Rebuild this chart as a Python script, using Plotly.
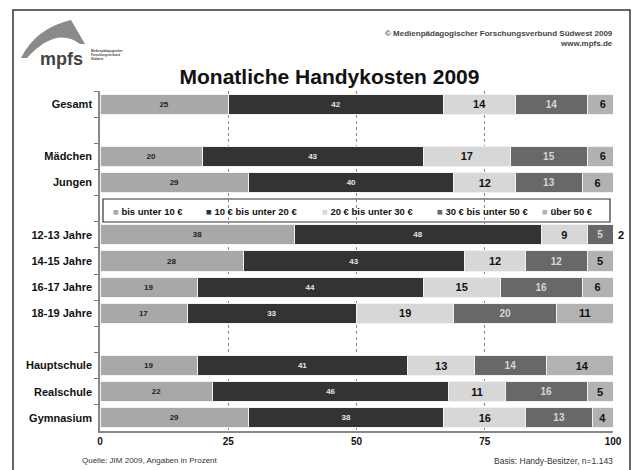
import plotly.graph_objects as go

categories = ["Gesamt", "Mädchen", "Jungen", "12-13 Jahre", "14-15 Jahre", "16-17 Jahre",
              "18-19 Jahre", "Hauptschule", "Realschule", "Gymnasium"]
slot_order = ["Gesamt", " ", "Mädchen", "Jungen", "  ", "12-13 Jahre", "14-15 Jahre",
              "16-17 Jahre", "18-19 Jahre", "   ", "Hauptschule", "Realschule", "Gymnasium"]

series_names = ["bis unter 10 €", "10 € bis unter 20 €", "20 € bis unter 30 €",
                "30 € bis unter 50 €", "über 50 €"]
bis10 = [25, 20, 29, 38, 28, 19, 17, 19, 22, 29]
bis20 = [42, 43, 40, 48, 43, 44, 33, 41, 46, 38]
bis30 = [14, 17, 12, 9, 12, 15, 19, 13, 11, 16]
bis50 = [14, 15, 13, 5, 12, 16, 20, 14, 16, 13]
ueber50 = [6, 6, 6, 2, 5, 6, 11, 14, 5, 4]
x_ticks = [0, 25, 50, 75, 100]
X_MAX = 100

colors = ["#a8a8a8", "#333333", "#d7d7d7", "#686868", "#b2b2b2"]
text_colors = ["#222222", "#e6e6e6", "#111111", "#d6d6d6", "#111111"]
text_sizes = [8, 8, 11, 10, 11]
FONT = "Liberation Sans, Arial, sans-serif"

# screen-pixel helpers (page has an 8px body margin)
PL, PT, PW, PH = 100, 91, 513, 340
def px(sx):
    return (sx - PL) / PW
def py(sy):
    return (PT + PH - sy) / PH

all_series = [bis10, bis20, bis30, bis50, ueber50]
fig = go.Figure()
starts = [0] * len(categories)
outside_labels = []
for name, vals, c, tc, ts in zip(series_names, all_series, colors, text_colors, text_sizes):
    texts = []
    for i, v in enumerate(vals):
        if starts[i] >= X_MAX:
            texts.append("")
            outside_labels.append((categories[i], starts[i], v, ts))
        else:
            texts.append(str(v))
    fig.add_trace(go.Bar(
        y=categories, x=vals, name=name, orientation="h", showlegend=False,
        marker=dict(color=c, line=dict(color="#f2f2f2", width=1)),
        text=texts, textposition="inside", insidetextanchor="middle",
        textangle=0,
        textfont=dict(family=FONT, size=ts, color=tc, weight="bold"),
        constraintext="none",
    ))
    starts = [s + v for s, v in zip(starts, vals)]

for cat, start, v, ts in outside_labels:
    fig.add_annotation(x=X_MAX, y=cat, xref="x", yref="y", text="<b>%d</b>" % v,
                       showarrow=False, xanchor="left", xshift=3,
                       font=dict(family=FONT, size=ts, color="#111111"))

fig.update_layout(
    barmode="stack", bargap=0.23,
    width=643, height=470,
    margin=dict(l=92, r=38, t=83, b=47),
    paper_bgcolor="white", plot_bgcolor="white",
    font=dict(family=FONT, size=10, color="#111111"),
    showlegend=False,
    title=dict(text="<b>Monatliche Handykosten 2009</b>", x=0.5, xanchor="center",
               y=1 - 69 / 470, yanchor="middle",
               font=dict(family=FONT, size=21, color="#111111")),
    xaxis=dict(range=[0, X_MAX], tickvals=x_ticks, ticktext=[str(t) for t in x_ticks],
               showgrid=True, gridcolor="#8a8a8a", griddash="dot", gridwidth=1,
               showline=True, linecolor="#888888", linewidth=1.5,
               ticks="", tickfont=dict(family=FONT, size=10, color="#111111", weight="bold"),
               zeroline=False, fixedrange=True),
    yaxis=dict(categoryorder="array", categoryarray=slot_order, range=[12.5, -0.5],
               type="category", tickson="boundaries", ticks="outside", ticklen=4,
               tickcolor="#777777", showline=True, linecolor="#888888", linewidth=1.5,
               tickfont=dict(family=FONT, size=11, color="#111111", weight="bold"),
               showgrid=False, fixedrange=True, ticklabelstandoff=4),
)

# legend box (drawn by hand so it fits on one line like the original)
fig.add_shape(type="rect", xref="paper", yref="paper",
              x0=px(103), x1=px(610), y0=py(222), y1=py(199),
              line=dict(color="#333333", width=1.2), fillcolor="white", layer="between")
legend_x = [111, 204, 320, 435, 540]
for name, c, lx in zip(series_names, colors, legend_x):
    fig.add_annotation(xref="paper", yref="paper", x=px(lx), y=py(211),
                       xanchor="left", yanchor="middle", showarrow=False,
                       text='<span style="color:%s">■</span> <b>%s</b>' % (c, name),
                       font=dict(family=FONT, size=9.5, color="#111111"))

# outer frame
fig.add_shape(type="rect", xref="paper", yref="paper",
              x0=px(13), x1=px(630), y0=py(490), y1=py(10),
              line=dict(color="#333333", width=1.5), fillcolor="rgba(0,0,0,0)", layer="below")

# logo swoosh
fig.add_shape(type="path", xref="paper", yref="paper",
              path="M %f %f Q %f %f %f %f L %f %f L %f %f Q %f %f %f %f Z" % (
                  px(21), py(58),
                  px(36), py(28), px(71), py(20),
                  px(85), py(44),
                  px(80), py(44),
                  px(56), py(26), px(27), py(58)),
              line=dict(width=0), fillcolor="#8a8a8a")

fig.add_annotation(xref="paper", yref="paper", x=px(38), y=py(59),
                   xanchor="left", yanchor="middle", showarrow=False,
                   text="<b>mpfs</b>", font=dict(family=FONT, size=18, color="#444444"))
fig.add_annotation(xref="paper", yref="paper", x=px(89), y=py(55),
                   xanchor="left", yanchor="middle", showarrow=False, align="left",
                   text="<b>Medienpädagogischer<br>Forschungsverbund<br>Südwest</b>",
                   font=dict(family=FONT, size=3, color="#444444"))
fig.add_annotation(xref="paper", yref="paper", x=px(615), y=py(38),
                   xanchor="right", yanchor="middle", showarrow=False, align="right",
                   text="<b>© Medienpädagogischer Forschungsverbund Südwest 2009<br>www.mpfs.de</b>",
                   font=dict(family=FONT, size=8, color="#444444"))
fig.add_annotation(xref="paper", yref="paper", x=px(80), y=py(461),
                   xanchor="left", yanchor="middle", showarrow=False,
                   text="Quelle: JIM 2009, Angaben in Prozent",
                   font=dict(family=FONT, size=8, color="#333333"))
fig.add_annotation(xref="paper", yref="paper", x=px(615), y=py(461),
                   xanchor="right", yanchor="middle", showarrow=False,
                   text="Basis: Handy-Besitzer, n=1.143",
                   font=dict(family=FONT, size=8.5, color="#333333"))

fig.write_html("out.html")
